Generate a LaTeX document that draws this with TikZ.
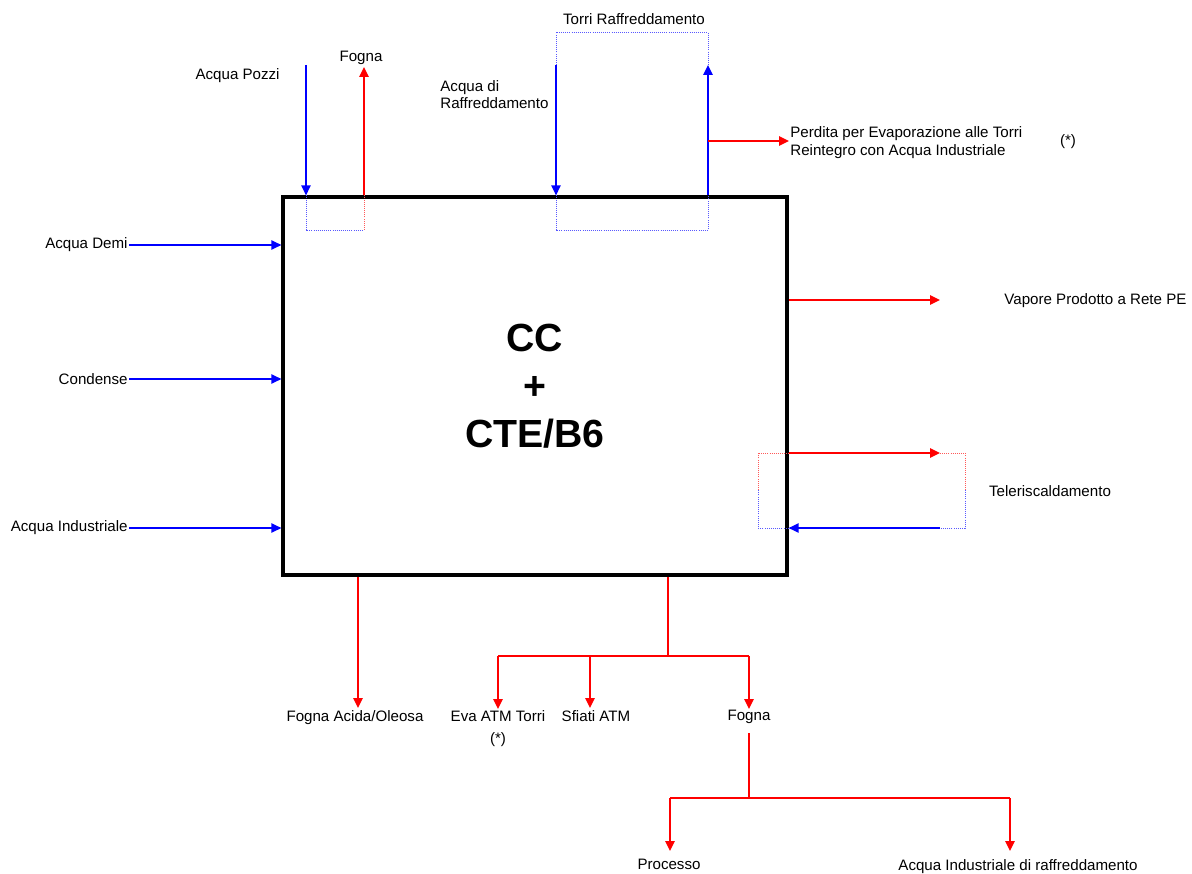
\documentclass[tikz,border=0pt]{standalone}
\usepackage{fontspec}
\setmainfont{Liberation Sans}
\usepackage{tikz}
\usetikzlibrary{arrows.meta, positioning, calc}
\tikzset{
  mainbox/.style={rectangle, draw=black, line width=2.8pt, minimum width=15.12cm, minimum height=11.34cm, align=center, font=\bfseries\fontsize{33.5}{41}\selectfont},
  lbl/.style={font=\fontsize{12.9}{15}\selectfont, inner sep=1pt},
  inblue/.style={blue, line width=1.3pt, -{Triangle[length=8.5pt,width=8pt]}},
  outred/.style={red, line width=1.3pt, -{Triangle[length=8.5pt,width=8pt]}},
  redline/.style={red, line width=1pt},
  bluedot/.style={blue!65, densely dotted, line width=0.8pt},
  reddot/.style={red!65, densely dotted, line width=0.8pt}
}

\begin{document}
\begin{tikzpicture}[x=0.03cm, y=-0.03cm]
    \useasboundingbox (0,0) rectangle (1192,874);

    % 1. Blocco centrale
    \node[mainbox] (cc) at (535,386) {CC\\+\\CTE/B6};

    % 2. Ingressi lato sinistro
    \foreach \y/\nm/\txt in {245/demi/Acqua Demi, 379/cond/Condense, 528/indu/Acqua Industriale} {
        \node[lbl, anchor=east] (\nm) at (129,\y) {\txt};
        \draw[inblue] (\nm.east) -- (\nm.east -| cc.west);
    }

    % 3. Acqua Pozzi / Fogna (in alto a sinistra)
    \coordinate (pzT) at (306,65);
    \coordinate (fgT) at (364,67);
    \node[lbl, anchor=east] (pozzi) at (281,76) {Acqua Pozzi};
    \node[lbl] (fognaT) at (361,58) {Fogna};
    \draw[inblue] (pzT) -- (pzT |- cc.north);
    \draw[outred] (fgT |- cc.north) -- (fgT);
    \draw[bluedot] (pzT |- cc.north) -- (306,230) -- (364,230);
    \draw[reddot] (364,230) -- (fgT |- cc.north);

    % 4. Torri di raffreddamento
    \coordinate (trIn) at (556,65);
    \coordinate (trOut) at (708,65);
    \node[lbl] (torri) at (634,19) {Torri Raffreddamento};
    \node[lbl, anchor=west, align=left, font=\fontsize{12.9}{14.5}\selectfont] (acqraf) at (439,94.5) {Acqua di\\Raffreddamento};
    \draw[bluedot] (trIn) -- (556,32) -- (708,32) -- (trOut);
    \draw[bluedot] (trIn |- cc.north) -- (556,230) -- (708,230) -- (trOut |- cc.north);
    \draw[inblue] (trIn) -- (trIn |- cc.north);
    \draw[inblue] (trOut |- cc.north) -- (trOut);

    % Perdita per evaporazione
    \coordinate (evA) at (708,141);
    \node[lbl, anchor=west, align=left, font=\fontsize{12.9}{16}\selectfont] (perdita) at (789,142.5) {Perdita per Evaporazione alle Torri\\Reintegro con Acqua Industriale};
    \node[lbl] (astA) at (1068,142) {(*)};
    \draw[outred] (evA) -- (evA -| perdita.west);

    % 5. Vapore
    \coordinate (vapEnd) at (940,300);
    \node[lbl, anchor=west] (vapore) at (1003,301) {Vapore Prodotto a Rete PE};
    \draw[outred] (vapEnd -| cc.east) -- (vapEnd);

    % 6. Teleriscaldamento
    \coordinate (tlR) at (940,453);
    \coordinate (tlB) at (940,528);
    \node[lbl] (teler) at (1050,491) {Teleriscaldamento};
    \draw[reddot] (758,490) -- (758,453) -- (tlR -| cc.east);
    \draw[reddot] (tlR) -- (965,453) -- (965,490);
    \draw[bluedot] (965,490) -- (965,528) -- (tlB);
    \draw[bluedot] (tlB -| cc.east) -- (758,528) -- (758,490);
    \draw[outred] (tlR -| cc.east) -- (tlR);
    \draw[inblue] (tlB) -- (tlB -| cc.east);

    % 7. Uscite lato inferiore
    \coordinate (acA) at (358,708);
    \node[lbl, anchor=north] (acida) at (355,709) {Fogna Acida/Oleosa};
    \draw[outred] (acA |- cc.south) -- (acA);

    \coordinate (brA) at (668,656);
    \node[lbl, anchor=north, align=center, font=\fontsize{12.9}{19}\selectfont] (eva) at (498,709) {Eva ATM Torri\\(*)};
    \node[lbl, anchor=north] (sfiati) at (596,709) {Sfiati ATM};
    \node[lbl, anchor=north] (fognaB) at (749,709) {Fogna};
    \draw[redline] (brA |- cc.south) -- (brA);
    \draw[redline] (eva.north |- brA) -- (fognaB.north |- brA);
    \draw[outred] (eva.north |- brA) -- (eva.north);
    \draw[outred] (590,656) -- (590,708);
    \draw[outred] (fognaB.north |- brA) -- (fognaB.north);

    % 8. Diramazione della fogna
    \coordinate (brB) at (749,798);
    \node[lbl, anchor=north] (processo) at (669,858) {Processo};
    \node[lbl, anchor=north] (acqind) at (1018,858) {Acqua Industriale di raffreddamento};
    \draw[redline] (749,733) -- (brB);
    \draw[redline] (670,798) -- (1010,798);
    \draw[outred] (670,798) -- (670,851);
    \draw[outred] (1010,798) -- (1010,851);

\end{tikzpicture}
\end{document}
